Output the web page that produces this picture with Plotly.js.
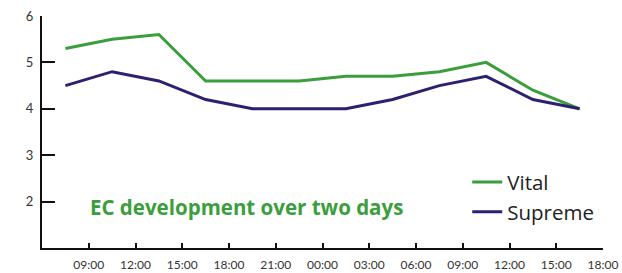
<!DOCTYPE html>
<html><head><meta charset="utf-8">
<script src="https://cdn.plot.ly/plotly-3.0.1.min.js"></script>
<style>html,body{margin:0;padding:0;background:#fff}#chart{width:622px;height:273px}</style>
</head><body><div id="chart"></div>
<script>
const times = ["2024-01-01 07:30","2024-01-01 10:30","2024-01-01 13:30","2024-01-01 16:30","2024-01-01 19:30","2024-01-01 22:30","2024-01-02 01:30","2024-01-02 04:30","2024-01-02 07:30","2024-01-02 10:30","2024-01-02 13:30","2024-01-02 16:30"];
const vital = [5.3,5.5,5.6,4.6,4.6,4.6,4.7,4.7,4.8,5.0,4.4,4.0];
const supreme = [4.5,4.8,4.6,4.2,4.0,4.0,4.0,4.2,4.5,4.7,4.2,4.0];
const tickVals = ["2024-01-01 09:00","2024-01-01 12:00","2024-01-01 15:00","2024-01-01 18:00","2024-01-01 21:00","2024-01-02 00:00","2024-01-02 03:00","2024-01-02 06:00","2024-01-02 09:00","2024-01-02 12:00","2024-01-02 15:00","2024-01-02 18:00"];
const tickLabels = ["09:00","12:00","15:00","18:00","21:00","00:00","03:00","06:00","09:00","12:00","15:00","18:00"];
const yTicks = [2,3,4,5,6];
const chartTitle = "EC development over two days";

const traces = [
 {x: times, y: vital, name: "Vital", type: "scatter", mode: "lines", line: {color: "#3a9e3c", width: 3}},
 {x: times, y: supreme, name: "Supreme", type: "scatter", mode: "lines", line: {color: "#2a2270", width: 3}}
];
const layout = {
 width: 622, height: 273,
 margin: {l: 42, r: 19, t: 16, b: 25},
 paper_bgcolor: "#fff", plot_bgcolor: "#fff",
 font: {family: "Lato, 'Open Sans', sans-serif", color: "#222"},
 xaxis: {type: "date", range: ["2024-01-01 06:00","2024-01-02 18:00"], tickvals: tickVals, ticktext: tickLabels,
   showgrid: false, zeroline: false, showline: true, linecolor: "#111", linewidth: 2,
   ticks: "inside", ticklen: 5, tickwidth: 2, tickcolor: "#111", tickfont: {size: 12, color: "#333"}, ticklabelstandoff: 5},
 yaxis: {range: [1,6], tickvals: yTicks, showgrid: false, zeroline: false, showline: true, linecolor: "#111", linewidth: 2,
   ticks: "inside", ticklen: 13, tickwidth: 2, tickcolor: "#111", tickfont: {size: 13, color: "#333"}, ticklabelstandoff: 4},
 showlegend: true,
 legend: {x: 0.758, y: 0.37, xanchor: "left", yanchor: "top", font: {family: "'Open Sans', sans-serif", size: 20.5, color: "#222"}, bgcolor: "rgba(0,0,0,0)", tracegroupgap: 0},
 annotations: [{text: "<b>" + chartTitle + "</b>", xref: "paper", yref: "paper", x: 0.082, y: 0.178, xanchor: "left", yanchor: "middle",
   showarrow: false, font: {family: "'Open Sans', sans-serif", size: 20.5, color: "#3a9e3c"}}]
};
Plotly.newPlot("chart", traces, layout, {displayModeBar: false, staticPlot: true});
</script></body></html>
